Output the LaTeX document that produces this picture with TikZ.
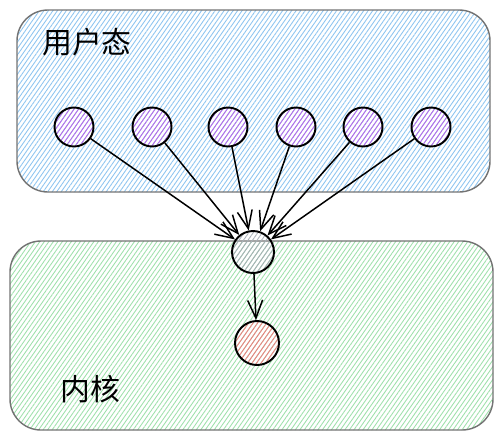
\documentclass[tikz,border=0pt]{standalone}
\usepackage{fontspec}
\newfontfamily\cjk{Noto Sans CJK SC}
\usetikzlibrary{patterns.meta,arrows.meta}
\definecolor{userblue}{HTML}{8EC5F0}
\definecolor{kerngreen}{HTML}{9FE0AC}
\definecolor{procpurple}{HTML}{B86BE8}
\definecolor{gategray}{HTML}{A8B0B8}
\definecolor{corered}{HTML}{F08080}
\tikzset{
  hatch/.style={pattern={Lines[angle=55,distance=2.1pt,line width=0.5pt]}},
  area/.style={draw=black!55, line width=0.8pt, rounded corners=0.62cm, hatch},
  dot/.style={circle, draw=black, line width=1.1pt, minimum size=0.78cm, inner sep=0pt, hatch},
  proc/.style={dot, pattern color=procpurple},
  gate/.style={dot, pattern color=gategray, minimum size=0.84cm},
  kern/.style={dot, pattern color=corered, minimum size=0.88cm},
}
\begin{document}
\begin{tikzpicture}[x=0.02cm, y=-0.02cm, >={Straight Barb[length=3.6mm,width=3mm]},
    every node/.style={font=\cjk\fontsize{17}{20}\selectfont}]
  \useasboundingbox (0,0) rectangle (502,440);

  % user space and kernel
  \draw[area, pattern color=userblue] (17,10) rectangle (490,192);
  \draw[area, pattern color=kerngreen] (10,241) rectangle (493,430);
  \node at (87,42) {用户态};
  \node at (90,389) {内核};

  % processes
  \foreach \x [count=\i] in {74,152,228,296,363,431}
    \node[proc] (p\i) at (\x,127) {};
  \node[gate] (sys) at (253,252) {};
  \node[kern] (core) at (257,343) {};

  % calls
  \foreach \i in {1,...,6}
    \draw[->, line width=0.85pt] (p\i) -- (sys);
  \draw[->, line width=0.85pt] (sys) -- (core);
\end{tikzpicture}
\end{document}
